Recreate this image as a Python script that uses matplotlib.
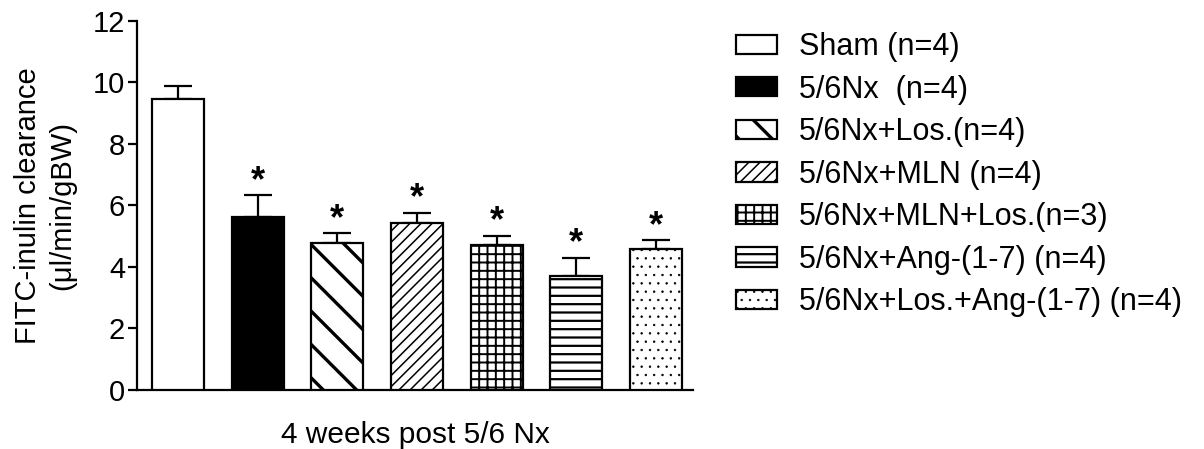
import matplotlib
matplotlib.use("Agg")
import matplotlib.pyplot as plt
import numpy as np

# FITC-inulin clearance at 4 weeks after 5/6 nephrectomy (mean + SEM)
groups = ["Sham (n=4)", "5/6Nx  (n=4)", "5/6Nx+Los.(n=4)", "5/6Nx+MLN (n=4)",
          "5/6Nx+MLN+Los.(n=3)", "5/6Nx+Ang-(1-7) (n=4)",
          "5/6Nx+Los.+Ang-(1-7) (n=4)"]
means = [9.45, 5.62, 4.78, 5.44, 4.70, 3.72, 4.58]
sems = [0.43, 0.71, 0.31, 0.32, 0.31, 0.58, 0.29]
significant = [False, True, True, True, True, True, True]
yticks = [0, 2, 4, 6, 8, 10, 12]

faces = ["white", "black", "white", "white", "white", "white", "white"]
hatches = [None, None, "\\", "///", "++", "--", ".."]
hatch_lw = [1.0, 1.0, 2.4, 1.1, 1.4, 1.6, 0.5]

plt.rcParams["font.family"] = ["Liberation Sans", "DejaVu Sans"]
plt.rcParams["hatch.color"] = "black"

W, H = 1204, 449
fig = plt.figure(figsize=(W / 100, H / 100), dpi=100)
ax = fig.add_axes([137 / W, 59 / H, (693 - 137) / W, (390 - 20.7) / H])


def apply_hatch_width(patch, lw):
    if hasattr(patch, "set_hatch_linewidth"):
        patch.set_hatch_linewidth(lw)


x = np.arange(len(means))
bars = []
for i in range(len(means)):
    with plt.rc_context({"hatch.linewidth": hatch_lw[i]}):
        b = ax.bar(x[i], means[i], width=0.65, color=faces[i],
                   edgecolor="black", linewidth=1.6, hatch=hatches[i],
                   zorder=3)
    apply_hatch_width(b[0], hatch_lw[i])
    bars.append(b[0])

ax.errorbar(x, means, yerr=[np.zeros(len(sems)), sems], fmt="none",
            ecolor="black", elinewidth=1.6, capsize=10, capthick=1.6,
            zorder=2)

for i in range(len(means)):
    if significant[i]:
        ax.annotate("*", (x[i], means[i] + sems[i]), xytext=(0, 3),
                    textcoords="offset points", ha="center", va="baseline",
                    fontsize=26, fontweight="bold")

ax.set_xlim(-0.514, 6.464)
ax.set_ylim(0, 12)
ax.set_yticks(yticks)
ax.set_yticklabels([str(t) for t in yticks], fontsize=21)
ax.set_xticks([])
for s in ["top", "right"]:
    ax.spines[s].set_visible(False)
for s in ["left", "bottom"]:
    ax.spines[s].set_linewidth(1.6)
ax.tick_params(axis="y", direction="out", length=6.5, width=1.6, pad=2)

ax.set_ylabel("FITC-inulin clearance\n(\u03bcl/min/gBW)", fontsize=21,
              linespacing=1.3, labelpad=12)
ax.set_xlabel("4 weeks post 5/6 Nx", fontsize=21.5, labelpad=22)

leg = fig.legend(bars, groups, loc="upper left",
                 bbox_to_anchor=(736 / W, 1 - 32 / H),
                 frameon=False, fontsize=22, handlelength=1.35,
                 handleheight=0.6, handletextpad=0.72, labelspacing=0.41,
                 borderpad=0, borderaxespad=0)
for p, lw in zip(leg.get_patches(), hatch_lw):
    apply_hatch_width(p, lw)

fig.savefig("out.png", dpi=100)
